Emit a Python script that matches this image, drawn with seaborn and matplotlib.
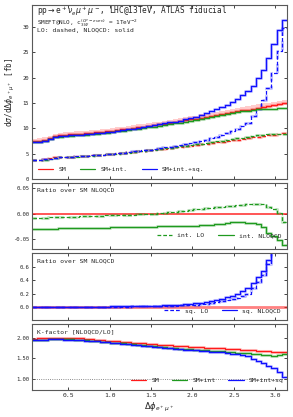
import numpy as np
import pandas as pd
import matplotlib
matplotlib.use("Agg")
import matplotlib.pyplot as plt
from matplotlib.lines import Line2D
import seaborn as sns

sns.set_style("ticks")
plt.rcParams['font.family'] = ['DejaVu Sans Mono', 'DejaVu Sans']
plt.rcParams['mathtext.fontset'] = 'dejavusans'

# 50 bins in delta phi between 0 and pi
edges = np.linspace(0, np.pi, 51)

# SM at LO [fb]
sm_lo = [3.80, 3.80, 3.82, 3.90, 4.05, 4.25, 4.33, 4.38, 4.42, 4.47,
         4.52, 4.58, 4.65, 4.73, 4.80, 4.88, 4.96, 5.05, 5.14, 5.24,
         5.34, 5.45, 5.55, 5.66, 5.77, 5.88, 6.00, 6.12, 6.24, 6.36,
         6.48, 6.60, 6.73, 6.86, 6.99, 7.12, 7.25, 7.38, 7.51, 7.65,
         7.78, 7.92, 8.05, 8.19, 8.33, 8.47, 8.61, 8.75, 8.90, 9.05]

# SM K-factor NLOQCD/LO
k_sm = [1.97, 1.97, 1.98, 1.98, 1.99, 1.99, 1.99, 1.99, 1.99, 1.98,
        1.98, 1.97, 1.96, 1.95, 1.94, 1.93, 1.92, 1.91, 1.90, 1.89,
        1.88, 1.87, 1.86, 1.85, 1.84, 1.83, 1.82, 1.81, 1.80, 1.79,
        1.785, 1.78, 1.77, 1.765, 1.76, 1.75, 1.745, 1.74, 1.73, 1.72,
        1.715, 1.71, 1.70, 1.69, 1.685, 1.68, 1.67, 1.66, 1.655, 1.65]

# scale uncertainty of SM NLOQCD [%]
sm_up_pct = [6.2, 6.2, 6.1, 6.1, 6.0, 6.0, 6.0, 5.9, 5.9, 5.9,
             5.8, 5.8, 5.8, 5.7, 5.7, 5.7, 5.6, 5.6, 5.6, 5.5,
             5.5, 5.5, 5.4, 5.4, 5.4, 5.3, 5.3, 5.3, 5.2, 5.2,
             5.2, 5.1, 5.1, 5.1, 5.0, 5.0, 5.0, 4.9, 4.9, 4.9,
             4.8, 4.8, 4.8, 4.7, 4.7, 4.7, 4.6, 4.6, 4.6, 4.5]
sm_dn_pct = [3.8, 3.8, 3.8, 3.7, 3.7, 3.7, 3.7, 3.6, 3.6, 3.6,
             3.6, 3.5, 3.5, 3.5, 3.5, 3.4, 3.4, 3.4, 3.4, 3.3,
             3.3, 3.3, 3.3, 3.2, 3.2, 3.2, 3.2, 3.1, 3.1, 3.1,
             3.1, 3.0, 3.0, 3.0, 3.0, 2.9, 2.9, 2.9, 2.9, 2.8,
             2.8, 2.8, 2.8, 2.7, 2.7, 2.7, 2.7, 2.6, 2.6, 2.6]

# interference over SM NLOQCD
int_lo = [-0.0085, -0.0082, -0.0079, -0.0075, -0.0072, -0.0068, -0.0065, -0.0061, -0.0058, -0.0054,
          -0.0051, -0.0047, -0.0044, -0.0040, -0.0037, -0.0033, -0.0030, -0.0026, -0.0023, -0.0019,
          -0.0015, -0.0011, -0.0007, -0.0003, 0.0002, 0.0010, 0.0020, 0.0030, 0.0040, 0.0050,
          0.0062, 0.0073, 0.0085, 0.0095, 0.0105, 0.0115, 0.0125, 0.0135, 0.0148, 0.0160,
          0.0170, 0.0180, 0.0190, 0.0196, 0.0198, 0.0190, 0.0140, 0.0090, 0.0010, -0.0160]
int_nlo = [-0.0300, -0.0298, -0.0296, -0.0294, -0.0292, -0.0290, -0.0288, -0.0286, -0.0284, -0.0282,
           -0.0280, -0.0278, -0.0276, -0.0274, -0.0272, -0.0270, -0.0268, -0.0266, -0.0264, -0.0262,
           -0.0260, -0.0258, -0.0256, -0.0253, -0.0250, -0.0247, -0.0245, -0.0243, -0.0241, -0.0239,
           -0.0236, -0.0233, -0.0230, -0.0225, -0.0218, -0.0210, -0.0202, -0.0195, -0.0185, -0.0170,
           -0.0162, -0.0168, -0.0178, -0.0190, -0.0205, -0.0250, -0.0370, -0.0440, -0.0510, -0.0610]

# squared term over SM NLOQCD
sq_lo = [0.000, 0.000, 0.001, 0.001, 0.001, 0.002, 0.002, 0.003, 0.003, 0.003,
         0.004, 0.004, 0.005, 0.005, 0.006, 0.006, 0.007, 0.008, 0.008, 0.009,
         0.010, 0.011, 0.012, 0.014, 0.015, 0.017, 0.019, 0.021, 0.023, 0.026,
         0.029, 0.032, 0.037, 0.044, 0.052, 0.062, 0.073, 0.086, 0.102, 0.120,
         0.140, 0.165, 0.200, 0.280, 0.370, 0.477, 0.640, 0.834, 1.106, 1.406]
sq_nlo = [0.000, 0.001, 0.001, 0.002, 0.002, 0.003, 0.003, 0.004, 0.004, 0.005,
          0.005, 0.006, 0.007, 0.007, 0.008, 0.009, 0.010, 0.011, 0.012, 0.013,
          0.015, 0.016, 0.018, 0.020, 0.022, 0.024, 0.027, 0.030, 0.033, 0.037,
          0.041, 0.046, 0.055, 0.065, 0.078, 0.092, 0.108, 0.126, 0.148, 0.172,
          0.200, 0.235, 0.280, 0.350, 0.440, 0.540, 0.690, 0.880, 1.050, 1.160]

sm_lo = np.array(sm_lo)
sm_nlo = sm_lo * np.array(k_sm)
smint_lo = sm_lo + sm_nlo * np.array(int_lo)
smint_nlo = sm_nlo * (1 + np.array(int_nlo))
full_lo = smint_lo + sm_nlo * np.array(sq_lo)
full_nlo = smint_nlo + sm_nlo * np.array(sq_nlo)
band_up = sm_nlo * (1 + np.array(sm_up_pct) / 100)
band_dn = sm_nlo * (1 - np.array(sm_dn_pct) / 100)

RED = '#ff1a1a'
GREEN = '#1f9a1f'
BLUE = '#1010ff'
DASH = (0, (3, 1.6))


def step(ax, vals, color, ls='-', lw=0.9):
    y = np.append(vals, vals[-1])
    df = pd.DataFrame({'x': edges, 'y': y})
    sns.lineplot(data=df, x='x', y='y', ax=ax, color=color, lw=2.2, alpha=0.25,
                 linestyle=ls, drawstyle='steps-post', estimator=None, sort=False)
    sns.lineplot(data=df, x='x', y='y', ax=ax, color=color, lw=lw,
                 linestyle=ls, drawstyle='steps-post', estimator=None, sort=False)


fig = plt.figure(figsize=(2.93, 4.17), dpi=100)
L, W = 32 / 293, 255 / 293
ax1 = fig.add_axes([L, 0.5707, W, 0.4173])
ax2 = fig.add_axes([L, 0.4029, W, 0.1583])
ax3 = fig.add_axes([L, 0.2326, W, 0.1607])
ax4 = fig.add_axes([L, 0.0647, W, 0.1583])

# main panel
ax1.fill_between(edges, np.append(band_dn, band_dn[-1]), np.append(band_up, band_up[-1]),
                 step='post', color=RED, alpha=0.22, lw=0)
step(ax1, sm_lo, RED, DASH)
step(ax1, smint_lo, GREEN, DASH)
step(ax1, full_lo, BLUE, DASH)
step(ax1, sm_nlo, RED)
step(ax1, smint_nlo, GREEN)
step(ax1, full_nlo, BLUE)
ax1.set_ylim(0, 34.3)
ax1.set_yticks([0, 5, 10, 15, 20, 25, 30])
ax1.set_ylabel(r'd$\sigma$/d$\Delta\phi_{e^+\mu^+}$ [fb]', fontsize=5.5, labelpad=4)
ax1.text(0.02, 0.966, r'pp$\rightarrow$e$^+\nu_e\mu^+\mu^-$, LHC@13TeV, ATLAS fiducial',
         transform=ax1.transAxes, fontsize=5.6, va='center')
ax1.text(0.02, 0.893, r'SMEFT@NLO, c$_{3W}^{(CP-even)}$ = 1TeV$^{-2}$',
         transform=ax1.transAxes, fontsize=4.3, va='center')
ax1.text(0.02, 0.853, 'LO: dashed, NLOQCD: solid',
         transform=ax1.transAxes, fontsize=4.6, va='center')
h = [Line2D([], [], color=c, lw=0.9) for c in (RED, GREEN, BLUE)]
ax1.legend(h, ['SM', 'SM+int.', 'SM+int.+sq.'], loc='lower left', ncol=3, frameon=False,
           fontsize=4.6, handlelength=2.4, columnspacing=2.2, handletextpad=0.8,
           bbox_to_anchor=(0.0, 0.005))

# interference ratio
ax2.axhline(0, color=RED, lw=1.3, alpha=0.8)
step(ax2, np.array(int_lo), GREEN, DASH)
step(ax2, np.array(int_nlo), GREEN)
ax2.set_ylim(-0.069, 0.0604)
ax2.set_yticks([-0.05, 0.0, 0.05])
ax2.yaxis.set_major_formatter(matplotlib.ticker.FormatStrFormatter('%.2f'))
ax2.text(0.02, 0.9, 'Ratio over SM NLOQCD', transform=ax2.transAxes, fontsize=4.6, va='center')
h = [Line2D([], [], color=GREEN, lw=0.9, ls=DASH), Line2D([], [], color=GREEN, lw=0.9)]
ax2.legend(h, ['int. LO', 'int. NLOQCD'], loc='lower right', ncol=2, frameon=False,
           fontsize=4.6, handlelength=2.4, columnspacing=2.2, handletextpad=0.8,
           bbox_to_anchor=(1.0, 0.08))

# squared ratio
ax3.axhline(0, color=RED, lw=2.0, alpha=0.55)
step(ax3, np.array(sq_lo), BLUE, DASH)
step(ax3, np.array(sq_nlo), BLUE)
ax3.set_ylim(-0.19, 0.8)
ax3.set_yticks([0.0, 0.2, 0.4, 0.6])
ax3.yaxis.set_major_formatter(matplotlib.ticker.FormatStrFormatter('%.1f'))
ax3.text(0.02, 0.885, 'Ratio over SM NLOQCD', transform=ax3.transAxes, fontsize=4.6, va='center')
h = [Line2D([], [], color=BLUE, lw=0.9, ls=DASH), Line2D([], [], color=BLUE, lw=0.9)]
ax3.legend(h, ['sq. LO', 'sq. NLOQCD'], loc='lower right', ncol=2, frameon=False,
           fontsize=4.6, handlelength=2.4, columnspacing=2.2, handletextpad=0.8,
           bbox_to_anchor=(1.0, 0.01))

# K-factor
ax4.axhline(1.0, color='0.4', lw=0.6, ls=':')
step(ax4, sm_nlo / sm_lo, RED)
step(ax4, smint_nlo / smint_lo, GREEN)
step(ax4, full_nlo / full_lo, BLUE)
ax4.set_ylim(0.73, 2.33)
ax4.set_yticks([1.0, 1.5, 2.0])
ax4.yaxis.set_major_formatter(matplotlib.ticker.FormatStrFormatter('%.2f'))
ax4.text(0.02, 0.875, 'K-factor [NLOQCD/LO]', transform=ax4.transAxes, fontsize=4.6, va='center')
h = [Line2D([], [], color=c, lw=0.9) for c in (RED, GREEN, BLUE)]
ax4.legend(h, ['SM', 'SM+int', 'SM+int+sq'], loc='lower right', ncol=3, frameon=False,
           fontsize=4.6, handlelength=2.4, columnspacing=2.0, handletextpad=0.8,
           bbox_to_anchor=(1.01, 0.02))
ax4.set_xlabel(r'$\Delta\phi_{e^+\mu^+}$', fontsize=6, labelpad=2)

for ax in (ax1, ax2, ax3, ax4):
    ax.set_xlim(np.pi / 50, np.pi)
    ax.set_xticks([0.5, 1.0, 1.5, 2.0, 2.5, 3.0])
    ax.tick_params(direction='in', top=True, right=True, length=2.5, width=0.6,
                   labelsize=4, pad=2, colors='0.15')
    ax.tick_params(axis='x', labelsize=4.6)
    for s in ax.spines.values():
        s.set_color('0.35')
        s.set_linewidth(0.8)
    if ax is not ax4:
        ax.set_xlabel('')
        ax.tick_params(labelbottom=False)
    if ax is not ax1:
        ax.set_ylabel('')

fig.savefig('out.png', dpi=100)
